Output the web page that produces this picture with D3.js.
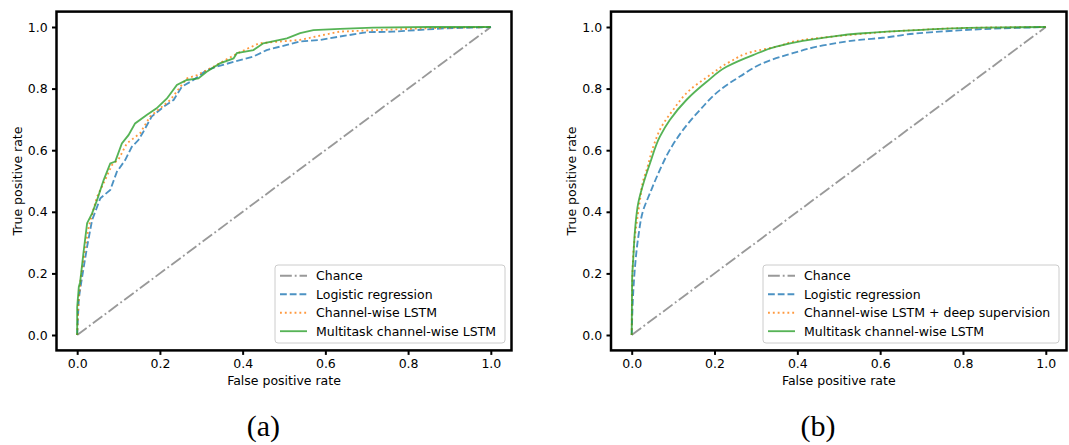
<!DOCTYPE html>
<html>
<head>
<meta charset="utf-8">
<script src="https://cdn.jsdelivr.net/npm/d3@7"></script>
<style>
  body { margin: 0; background: white; }
  svg { display: block; font-family: "DejaVu Sans", sans-serif; }
</style>
</head>
<body>
<svg id="chart" width="1069" height="445"></svg>
<script>
/* global d3 */

// ---- data: [false positive rate, true positive rate] ----
const ticks = [0, 0.2, 0.4, 0.6, 0.8, 1.0]
const chance = [[0, 0], [1, 1]]

// panel (a)
const logisticA = [[0, 0], [0.004, 0.12], [0.012, 0.189], [0.024, 0.287], [0.036, 0.373], [0.056, 0.444],
  [0.080, 0.471], [0.096, 0.530], [0.116, 0.568], [0.132, 0.611], [0.148, 0.633], [0.160, 0.660],
  [0.180, 0.709], [0.209, 0.741], [0.233, 0.763], [0.253, 0.806], [0.281, 0.828], [0.313, 0.860],
  [0.337, 0.871], [0.378, 0.887], [0.426, 0.904], [0.458, 0.925], [0.507, 0.942], [0.539, 0.953],
  [0.587, 0.958], [0.635, 0.969], [0.700, 0.983], [0.764, 0.985], [0.821, 0.990], [0.893, 0.996],
  [0.990, 0.999], [1, 1]]
const channelA = [[0, 0], [0.003, 0.10], [0.008, 0.179], [0.020, 0.287], [0.028, 0.352], [0.048, 0.449],
  [0.064, 0.493], [0.084, 0.552], [0.100, 0.570], [0.120, 0.622], [0.152, 0.655], [0.176, 0.709],
  [0.225, 0.763], [0.265, 0.833], [0.290, 0.844], [0.329, 0.871], [0.391, 0.917], [0.440, 0.947],
  [0.482, 0.952], [0.539, 0.958], [0.587, 0.972], [0.635, 0.985], [0.724, 0.990], [0.845, 0.996], [1, 1]]
const multitaskA = [[0, 0], [0, 0.09], [0.004, 0.157], [0.007, 0.17], [0.016, 0.276], [0.024, 0.363],
  [0.036, 0.395], [0.048, 0.438], [0.060, 0.487], [0.064, 0.503], [0.080, 0.557], [0.092, 0.563],
  [0.108, 0.622], [0.124, 0.649], [0.140, 0.687], [0.168, 0.714], [0.192, 0.736], [0.217, 0.768],
  [0.241, 0.812], [0.265, 0.828], [0.293, 0.833], [0.313, 0.855], [0.345, 0.882], [0.378, 0.898],
  [0.386, 0.915], [0.426, 0.925], [0.450, 0.947], [0.507, 0.963], [0.539, 0.980], [0.571, 0.990],
  [0.635, 0.994], [0.716, 0.998], [0.85, 1.0], [1, 1]]

// panel (b)
const logisticB = [[0, 0], [0.004, 0.146], [0.008, 0.222], [0.016, 0.319], [0.028, 0.406], [0.044, 0.46],
  [0.068, 0.536], [0.092, 0.601], [0.124, 0.666], [0.165, 0.731], [0.213, 0.795], [0.261, 0.839],
  [0.325, 0.887], [0.389, 0.915], [0.470, 0.942], [0.550, 0.958], [0.606, 0.965], [0.687, 0.979],
  [0.767, 0.987], [0.847, 0.993], [0.928, 0.997], [1, 1]]
const channelB = [[0, 0], [0.002, 0.2], [0.006, 0.3], [0.012, 0.363], [0.020, 0.438], [0.028, 0.503],
  [0.036, 0.536], [0.052, 0.611], [0.072, 0.676], [0.100, 0.731], [0.140, 0.795], [0.189, 0.844],
  [0.237, 0.887], [0.293, 0.920], [0.349, 0.936], [0.413, 0.958], [0.478, 0.968], [0.550, 0.977],
  [0.687, 0.990], [0.847, 0.998], [1, 1]]
const multitaskB = [[0, 0], [0.001, 0.179], [0.004, 0.254], [0.008, 0.341], [0.016, 0.430], [0.030, 0.500],
  [0.044, 0.557], [0.068, 0.644], [0.092, 0.698], [0.132, 0.763], [0.181, 0.822], [0.229, 0.871],
  [0.293, 0.909], [0.349, 0.936], [0.413, 0.955], [0.478, 0.968], [0.550, 0.979], [0.687, 0.990],
  [0.847, 0.998], [1, 1]]

const namesA = ['Chance', 'Logistic regression', 'Channel-wise LSTM', 'Multitask channel-wise LSTM']
const namesB = ['Chance', 'Logistic regression', 'Channel-wise LSTM + deep supervision', 'Multitask channel-wise LSTM']

// line styles (matplotlib look: alpha .8, lw 1.5pt)
const styles = [
  { color: '#7f7f7f', dash: '11.8,2.95,1.85,2.95' },
  { color: '#1f77b4', dash: '6.8,2.95' },
  { color: '#ff7f0e', dash: '1.85,3' },
  { color: '#2ca02c', dash: null }
]

const panels = [
  { x0: 56.5, x1: 511.5, caption: '(a)', names: namesA, data: [chance, logisticA, channelA, multitaskA],
    legendX: 275, legendW: 230, curve: d3.curveLinear },
  { x0: 611, x1: 1066.5, caption: '(b)', names: namesB, data: [chance, logisticB, channelB, multitaskB],
    legendX: 763, legendW: 296, curve: d3.curveMonotoneY }
]

const svg = d3.select('#chart')
const fontSize = '12.5px'
const y = d3.scaleLinear().domain([-0.05, 1.05]).range([350.4, 11.6])

panels.forEach(p => {
  const x = d3.scaleLinear().domain([-0.05, 1.05]).range([p.x0, p.x1])
  const g = svg.append('g')

  // axes
  const xAxis = d3.axisBottom(x).tickValues(ticks).tickSize(4.5).tickPadding(4.3)
    .tickFormat(d3.format('.1f'))
  const yAxis = d3.axisLeft(y).tickValues(ticks).tickSize(4.5).tickPadding(4.3)
    .tickFormat(d3.format('.1f'))

  g.append('g')
    .attr('transform', `translate(0, ${y(-0.05)})`)
    .call(xAxis)
    .call(a => a.select('.domain').remove())
  g.append('g')
    .attr('transform', `translate(${p.x0}, 0)`)
    .call(yAxis)
    .call(a => a.select('.domain').remove())
  g.selectAll('.tick line').attr('stroke', 'black').attr('stroke-width', 2)
  g.selectAll('.tick text').style('font-size', fontSize).attr('fill', 'black')
    .style('font-family', '"DejaVu Sans", sans-serif')

  // curves
  const line = d3.line().x(d => x(d[0])).y(d => y(d[1])).curve(p.curve)
  p.data.forEach((d, i) => {
    g.append('path')
      .attr('d', i === 0 ? d3.line().x(e => x(e[0])).y(e => y(e[1]))(d) : line(d))
      .attr('fill', 'none')
      .attr('stroke', styles[i].color)
      .attr('stroke-opacity', 0.8)
      .attr('stroke-width', 1.85)
      .attr('stroke-dasharray', styles[i].dash)
  })

  // frame
  g.append('rect')
    .attr('x', p.x0).attr('y', y(1.05))
    .attr('width', p.x1 - p.x0).attr('height', y(-0.05) - y(1.05))
    .attr('fill', 'none').attr('stroke', 'black').attr('stroke-width', 2.5)

  // legend
  const lg = g.append('g')
  lg.append('rect')
    .attr('x', p.legendX).attr('y', 265)
    .attr('width', p.legendW).attr('height', 78)
    .attr('rx', 3)
    .attr('fill', 'white').attr('fill-opacity', 0.8)
    .attr('stroke', '#cccccc').attr('stroke-width', 1)
  p.names.forEach((n, i) => {
    const ry = 275.7 + i * 18.5
    lg.append('line')
      .attr('x1', p.legendX + 5).attr('x2', p.legendX + 32)
      .attr('y1', ry).attr('y2', ry)
      .attr('stroke', styles[i].color)
      .attr('stroke-opacity', 0.8)
      .attr('stroke-width', 1.85)
      .attr('stroke-dasharray', styles[i].dash)
    lg.append('text')
      .attr('x', p.legendX + 41).attr('y', ry)
      .attr('dy', '0.35em')
      .style('font-size', fontSize)
      .text(n)
  })

  // axis labels
  g.append('text')
    .attr('x', x(0.5)).attr('y', 385)
    .attr('text-anchor', 'middle')
    .style('font-size', fontSize)
    .text('False positive rate')
  g.append('text')
    .attr('transform', `translate(${p.x0 - 35}, ${y(0.5)}) rotate(-90)`)
    .attr('text-anchor', 'middle')
    .style('font-size', fontSize)
    .text('True positive rate')

  // caption
  g.append('text')
    .attr('x', x(0.45)).attr('y', 436)
    .attr('text-anchor', 'middle')
    .style('font-family', '"Liberation Serif", serif')
    .style('font-size', '30px')
    .text(p.caption)
})
</script>
</body>
</html>
